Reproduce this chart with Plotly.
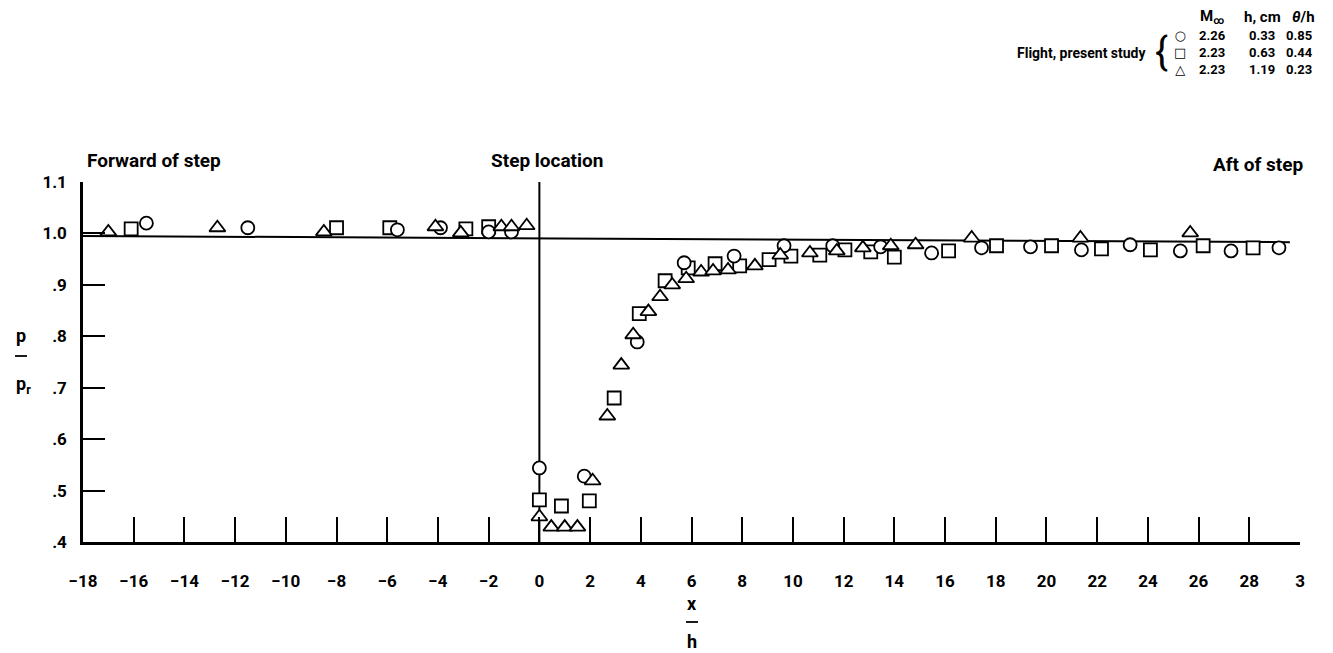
import plotly.graph_objects as go

# ---- data (x/h, p/pr) ----
circle_x = [-15.5, -11.5, -5.6, -3.9, -2.0, -1.1, 0.0, 1.77, 3.86, 5.71, 7.68, 9.65, 11.57, 13.46,
            15.47, 17.44, 19.37, 21.38, 23.3, 25.28, 27.28, 29.17]
circle_y = [1.02, 1.011, 1.007, 1.011, 1.003, 1.003, 0.544, 0.528, 0.789, 0.943, 0.956, 0.976, 0.976, 0.974,
            0.962, 0.972, 0.974, 0.968, 0.978, 0.966, 0.966, 0.972]

square_x = [-16.1, -8.0, -5.9, -2.9, -2.0, 0.0, 0.87, 1.97, 2.95, 3.94, 4.96, 5.87, 6.93, 7.9, 9.06, 9.92,
            11.06, 12.05, 13.07, 14.0, 16.14, 18.03, 20.2, 22.17, 24.1, 26.18, 28.15]
square_y = [1.009, 1.011, 1.011, 1.009, 1.013, 0.482, 0.47, 0.48, 0.68, 0.844, 0.908, 0.933, 0.941, 0.937,
            0.949, 0.956, 0.958, 0.968, 0.964, 0.954, 0.966, 0.976, 0.976, 0.970, 0.968, 0.976, 0.972]

tri_x = [-17.0, -12.7, -8.5, -4.1, -3.1, -1.5, -1.1, -0.5, 0.0, 0.47, 1.0, 1.5, 2.1, 2.68, 3.23, 3.7,
         4.3, 4.76, 5.24, 5.79, 6.38, 6.85, 7.44, 8.5, 9.5, 10.67, 11.73, 12.76, 13.86, 14.84, 17.05,
         21.34, 25.67]
tri_y = [1.003, 1.011, 1.003, 1.013, 1.001, 1.013, 1.013, 1.015, 0.449, 0.429, 0.429, 0.429, 0.519, 0.645,
         0.744, 0.803, 0.848, 0.877, 0.9, 0.912, 0.925, 0.927, 0.929, 0.937, 0.958, 0.962, 0.966, 0.972,
         0.976, 0.978, 0.991, 0.991, 1.001]

ref_x = [-18, 29.6]
ref_y = [0.995, 0.983]
step_x = [0, 0]
step_y = [0.4, 1.1]

x_ticks = list(range(-18, 31, 2))
x_ticktext = [("\u2212" + str(-v)) if v < 0 else str(v) for v in x_ticks[:-1]] + ["3"]
y_ticks = [0.4, 0.5, 0.6, 0.7, 0.8, 0.9, 1.0, 1.1]
y_ticktext = [".4", ".5", ".6", ".7", ".8", ".9", "1.0", "1.1"]

legend_symbols = ["\u25cb", "\u25a1", "\u25b3"]
legend_mach = ["2.26", "2.23", "2.23"]
legend_h = ["0.33", "0.63", "1.19"]
legend_theta = ["0.85", "0.44", "0.23"]

FONT = "Roboto, Liberation Sans, sans-serif"

fig = go.Figure()
fig.add_trace(go.Scatter(x=ref_x, y=ref_y, mode="lines", line=dict(color="black", width=2),
                         showlegend=False, hoverinfo="skip"))
fig.add_trace(go.Scatter(x=step_x, y=step_y, mode="lines", line=dict(color="black", width=2),
                         showlegend=False, hoverinfo="skip"))
mk = dict(color="white", size=13, line=dict(color="black", width=1.8))
fig.add_trace(go.Scatter(x=square_x, y=square_y, mode="markers", name="2.23 0.63 0.44",
                         marker=dict(symbol="square", **mk), showlegend=False))
fig.add_trace(go.Scatter(x=circle_x, y=circle_y, mode="markers", name="2.26 0.33 0.85",
                         marker=dict(symbol="circle", **mk), showlegend=False))
fig.add_trace(go.Scatter(x=tri_x, y=tri_y, mode="markers", name="2.23 1.19 0.23",
                         marker=dict(symbol="triangle-up", color="white", size=14,
                                     line=dict(color="black", width=1.8)), showlegend=False))

fig.update_layout(
    width=1333, height=653,
    margin=dict(l=83, r=33, t=182, b=111),
    paper_bgcolor="white", plot_bgcolor="white",
    font=dict(family=FONT, size=16, color="black", weight="bold"),
    xaxis=dict(range=[-18, 30], showgrid=False, zeroline=False, showline=True, linecolor="black",
               linewidth=2.5, ticks="inside", ticklen=25, tickwidth=1.5, tickcolor="black",
               tickvals=x_ticks, ticktext=x_ticktext, ticklabelstandoff=22,
               tickfont=dict(family=FONT, size=17, weight="bold")),
    yaxis=dict(range=[0.4, 1.1], showgrid=False, zeroline=False, showline=True, linecolor="black",
               linewidth=2.5, ticks="inside", ticklen=22, tickwidth=1.8, tickcolor="black",
               tickvals=y_ticks, ticktext=y_ticktext, ticklabelstandoff=10,
               tickfont=dict(family=FONT, size=17, weight="bold")),
)

def px_x(p):
    return (p - 83) / 1217.0

def px_y(p):
    return (542 - p) / 360.0

def note(text, x, y, size=16, xanchor="center", family=FONT, weight="bold"):
    fig.add_annotation(text=text, x=px_x(x), y=px_y(y), xref="paper", yref="paper",
                       showarrow=False, xanchor=xanchor, yanchor="middle", align="center",
                       font=dict(family=family, size=size, color="black", weight=weight))

note("Forward of step", 85, 160, size=19, xanchor="left")
note("Step location", 547, 160, size=19)
note("Aft of step", 1305, 165, size=19, xanchor="right")

# y label
note("p", 21, 335, size=18)
note("p<sub>r</sub>", 23, 385, size=18)
fig.add_shape(type="line", xref="paper", yref="paper", x0=px_x(15), x1=px_x(27),
              y0=px_y(356), y1=px_y(356), line=dict(color="black", width=1.8))
# x label
note("x", 692, 603, size=18)
note("h", 692, 641, size=18)
fig.add_shape(type="line", xref="paper", yref="paper", x0=px_x(686), x1=px_x(698),
              y0=px_y(622), y1=px_y(622), line=dict(color="black", width=1.8))

# legend table (one text block per column)
note("M<sub>\u221e</sub>", 1212, 17, size=15)
note("h, cm", 1262, 17, size=15)
note("<i>\u03b8</i>/h", 1303, 17, size=15)
rows_y = 53
note("<br>".join(legend_symbols), 1180, rows_y, size=13, family="DejaVu Sans", weight="normal")
note("<br>".join(legend_mach), 1212, rows_y, size=13)
note("<br>".join(legend_h), 1262, rows_y, size=13)
note("<br>".join(legend_theta), 1299, rows_y, size=13)
note("Flight, present study", 1148, 53, size=14, xanchor="right")
note("{", 1161, 52, size=38, weight="normal")

fig.write_html("out.html")
